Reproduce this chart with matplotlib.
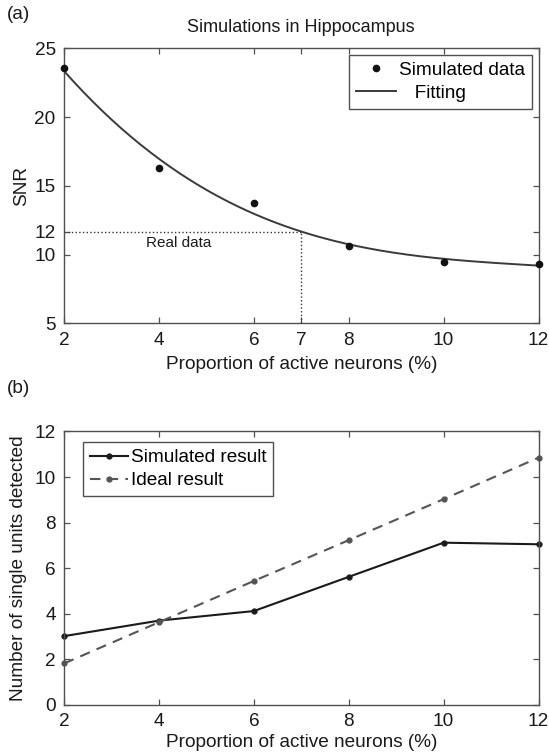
import numpy as np
import matplotlib
matplotlib.use("Agg")
import matplotlib.pyplot as plt

plt.rcParams['font.family'] = ['Liberation Sans', 'DejaVu Sans']

#Panel (a) data: SNR vs proportion of active neurons
prop_a = [2, 4, 6, 8, 10, 12]
snr_sim = [23.55, 16.27, 13.73, 10.62, 9.44, 9.31]
real_x = 7
real_snr = 11.65
a_xticks = [2, 4, 6, 7, 8, 10, 12]
a_yticks = [5, 10, real_snr, 15, 20, 25]
a_yticklabels = ["5", "10", "12", "15", "20", "25"]

#Panel (b) data: number of single units detected
prop_b = [2, 4, 6, 8, 10, 12]
units_sim = [3.02, 3.70, 4.12, 5.62, 7.12, 7.05]
units_ideal = [1.82, 3.63, 5.44, 7.23, 9.03, 10.85]
b_yticks = [0, 2, 4, 6, 8, 10, 12]

spine_col = "#505050"
txt_col = "#1a1a1a"
fs = 13.7

def styleAxis(ax):
    for s in ax.spines.values():
        s.set_color(spine_col)
        s.set_linewidth(1.0)
    ax.tick_params(direction='in', length=4, width=0.9, color=spine_col,
                   top=True, right=True, labelsize=fs, labelcolor=txt_col, pad=6)

fig = plt.figure(figsize=(5.49, 7.56), dpi=100)

#Panel (a)
ax1 = fig.add_axes([0.1166, 0.5723, 0.8643, 0.3638])
styleAxis(ax1)
#cubic fit of the simulated points
coef = np.polyfit(prop_a, snr_sim, 3)
xf = np.linspace(2, 12, 200)
ax1.plot(xf, np.polyval(coef, xf), color="#3a3a3a", linewidth=1.4, label="   Fitting", zorder=2)
ax1.plot(prop_a, snr_sim, linestyle="none", marker="o", markersize=4.5, color="#111111",
         label="Simulated data", zorder=3, clip_on=False)
ax1.plot([2, real_x], [real_snr, real_snr], linestyle=":", color="#333333", linewidth=1.0)
ax1.plot([real_x, real_x], [5, real_snr], linestyle=":", color="#333333", linewidth=1.0)
ax1.text(3.73, 10.86, "Real data", fontsize=11, color=txt_col, va="center", ha="left")
ax1.set_xlim(2, 12)
ax1.set_ylim(5, 25)
ax1.set_xticks(a_xticks)
ax1.set_yticks(a_yticks)
ax1.set_yticklabels(a_yticklabels)
ax1.set_xlabel("Proportion of active neurons (%)", fontsize=fs, color=txt_col, labelpad=5)
ax1.set_ylabel("SNR", fontsize=fs, color=txt_col, labelpad=3)
ax1.set_title("Simulations in Hippocampus", fontsize=13, color=txt_col, pad=12)
h, l = ax1.get_legend_handles_labels()
leg1 = ax1.legend([h[1], h[0]], [l[1], l[0]], loc="upper right", bbox_to_anchor=(0.9863, 0.9756),
                  borderaxespad=0, fancybox=False, framealpha=1, edgecolor=spine_col,
                  fontsize=fs, handlelength=2.1, handletextpad=0.2, labelspacing=0.3,
                  borderpad=0.35)
leg1.get_frame().set_linewidth(1.0)
fig.text(0.012, 0.981, "(a)", fontsize=fs, color=txt_col, va="center", ha="left")

#Panel (b)
ax2 = fig.add_axes([0.1166, 0.0675, 0.8643, 0.3618])
styleAxis(ax2)
ax2.plot(prop_b, units_sim, color="#1a1a1a", linewidth=1.5, marker="o", markersize=3.5,
         label="Simulated result", clip_on=False)
ax2.plot(prop_b, units_ideal, color="#555555", linewidth=1.5, linestyle=(0, (5, 3.5)),
         marker="o", markersize=3.5, label="Ideal result", clip_on=False)
ax2.set_xlim(2, 12)
ax2.set_ylim(0, 12)
ax2.set_xticks(prop_b)
ax2.set_yticks(b_yticks)
ax2.set_xlabel("Proportion of active neurons (%)", fontsize=fs, color=txt_col, labelpad=3)
ax2.set_ylabel("Number of single units detected", fontsize=fs, color=txt_col, labelpad=5)
leg2 = ax2.legend(loc="upper left", bbox_to_anchor=(0.0407, 0.9605), borderaxespad=0,
                  fancybox=False, framealpha=1, edgecolor=spine_col, fontsize=fs,
                  handlelength=2.0, handletextpad=0.15, labelspacing=0.3, borderpad=0.35)
leg2.get_frame().set_linewidth(1.0)
fig.text(0.012, 0.4855, "(b)", fontsize=fs, color=txt_col, va="center", ha="left")

plt.savefig("out.png", dpi=100)
plt.close()
